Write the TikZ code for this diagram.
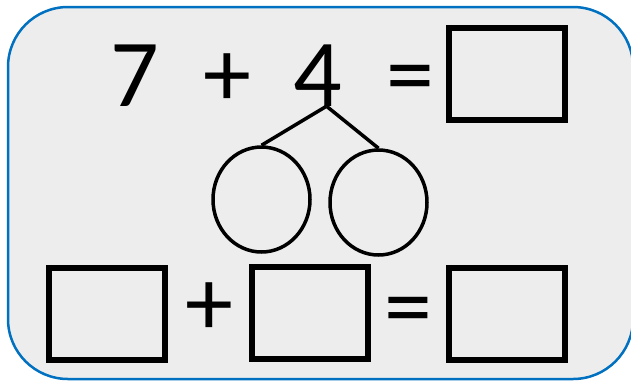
\documentclass[tikz,border=0pt]{standalone}
\usepackage{fontspec}
\setmainfont{Carlito}
\usetikzlibrary{positioning, shapes.geometric}
\definecolor{cardblue}{RGB}{0,112,192}
\definecolor{cardgray}{RGB}{237,237,237}

\begin{document}
\begin{tikzpicture}[x=1pt, y=-1pt,
    answerbox/.style={draw, line width=6pt, minimum width=116pt, minimum height=92pt, inner sep=0pt},
    part/.style={draw, ellipse, line width=3.5pt, minimum width=97pt, minimum height=105pt, inner sep=0pt},
    sign/.style={font=\fontsize{96}{96}\selectfont, inner sep=0pt, anchor=base}]
    \useasboundingbox (0,0) rectangle (631,381);
    % Karte
    \draw[cardblue, fill=cardgray, line width=2.5pt, rounded corners=60pt] (8,7) rectangle (633,379);
    % Aufgabe
    \node[sign] (seven) at (135,106) {7};
    \node[sign] (plusTop) at (227,106) {+};
    \node[sign] (four) at (318,106) {4};
    \node[sign] (eqTop) at (410,106) {=};
    \node[answerbox] (sum) at (506.5,74) {};
    % Zerlegung
    \node[part] (partA) at (261.5,199.5) {};
    \node[part] (partB) at (378.5,202.5) {};
    \coordinate (stem) at ([xshift=8.5pt]four.south);
    \draw[line width=3.5pt] (stem) -- (partA.north);
    \draw[line width=3.5pt] (stem) -- (partB.north);
    % Rechnung
    \node[answerbox] (addA) at (107,314) {};
    \node[sign] (plusBottom) at (209,335.5) {+};
    \node[answerbox] (addB) at (310,313) {};
    \node[sign] (eqBottom) at (408,338) {=};
    \node[answerbox] (total) at (506.5,314) {};
\end{tikzpicture}
\end{document}
